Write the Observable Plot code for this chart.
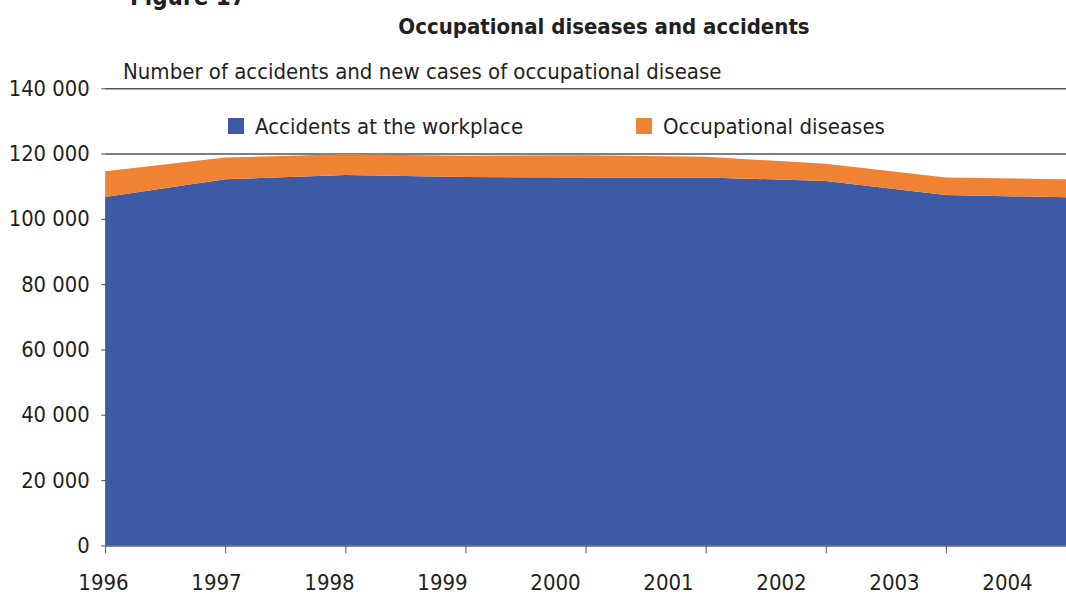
<!DOCTYPE html>
<html>
<head>
<meta charset="utf-8">
<script src="https://cdn.jsdelivr.net/npm/d3@7"></script>
<script src="https://cdn.jsdelivr.net/npm/@observablehq/plot@0.6"></script>
<style>
  html, body { margin: 0; padding: 0; background: #fff; overflow: hidden; }
  #wrap { position: relative; width: 1066px; height: 599px; overflow: hidden;
          font-family: "Liberation Sans Narrow", "DejaVu Sans Condensed", sans-serif; color: #231f20; }
  .abs { position: absolute; white-space: nowrap; }
  #fig { left: 130px; top: -17px; font-size: 24px; font-weight: bold; }
  #title { left: 0; width: 1208px; text-align: center; top: 14px; font-size: 22px; font-weight: bold; }
  #subtitle { left: 123px; top: 59px; font-size: 22px; }
  .sw { width: 16px; height: 16px; }
  .leg { font-size: 22px; top: 114px; }
</style>
</head>
<body>
<div id="wrap">
  <div id="fig" class="abs">Figure 17</div>
  <div id="title" class="abs">Occupational diseases and accidents</div>
  <div id="subtitle" class="abs">Number of accidents and new cases of occupational disease</div>
  <div id="main" class="abs" style="left:0;top:0"></div>
  <div id="xlabels" class="abs" style="left:0;top:560px"></div>
  <div id="legend"></div>
</div>
<script>
const years = [1996, 1997, 1998, 1999, 2000, 2001, 2002, 2003, 2004];
const accidents = [106700, 112100, 113400, 112800, 112700, 112700, 111600, 107300, 106600];
const diseases = [7900, 6700, 6400, 6500, 6800, 6300, 5300, 5400, 5500];
const seriesNames = ["Accidents at the workplace", "Occupational diseases"];
const seriesColors = ["#3d5aa4", "#ef8333"];
const yTicks = [0, 20000, 40000, 60000, 80000, 100000, 120000, 140000];

const rows = [];
years.forEach((yr, i) => {
  rows.push({year: yr, series: seriesNames[0], value: accidents[i]});
  rows.push({year: yr, series: seriesNames[1], value: diseases[i]});
});

const fmt = d => d3.format(",")(d).replace(/,/g, " ");
const font = "'Liberation Sans Narrow', 'DejaVu Sans Condensed', sans-serif";

const main = Plot.plot({
  width: 1075, height: 599,
  marginLeft: 106, marginRight: 0, marginTop: 89, marginBottom: 49,
  style: {fontFamily: font, fontSize: "22px", color: "#231f20", background: "transparent"},
  x: {domain: [1996, 2004]},
  y: {domain: [0, 140000]},
  color: {domain: seriesNames, range: seriesColors},
  marks: [
    Plot.ruleY(yTicks, {stroke: "#555", strokeWidth: 1.6}),
    Plot.areaY(rows, {x: "year", y: "value", fill: "series", order: seriesNames}),
    Plot.ruleY([0], {stroke: "#888", strokeWidth: 1}),
    Plot.axisY({ticks: yTicks, tickSize: 4, tickPadding: 12, tickFormat: fmt, fontSize: 22, stroke: "#555", label: null}),
    Plot.axisX({ticks: years, tickSize: 8, tickFormat: () => "", stroke: "#555", label: null})
  ]
});
document.getElementById("main").appendChild(main);

const labels = Plot.plot({
  width: 1066, height: 40,
  marginLeft: 103, marginRight: 59, marginTop: 0, marginBottom: 39,
  style: {fontFamily: font, fontSize: "22px", color: "#231f20", background: "transparent"},
  x: {domain: [1996, 2004]},
  marks: [
    Plot.axisX({ticks: years, tickSize: 0, tickPadding: 13, tickFormat: d => String(d), fontSize: 22, label: null})
  ]
});
document.getElementById("xlabels").appendChild(labels);

// legend built from the series arrays
const legend = document.getElementById("legend");
const legX = [228, 636];
seriesNames.forEach((name, i) => {
  const sw = document.createElement("div");
  sw.className = "abs sw";
  sw.style.left = legX[i] + "px";
  sw.style.top = "118px";
  sw.style.background = seriesColors[i];
  legend.appendChild(sw);
  const t = document.createElement("div");
  t.className = "abs leg";
  t.style.left = (legX[i] + 27) + "px";
  t.textContent = name;
  legend.appendChild(t);
});
</script>
</body>
</html>
